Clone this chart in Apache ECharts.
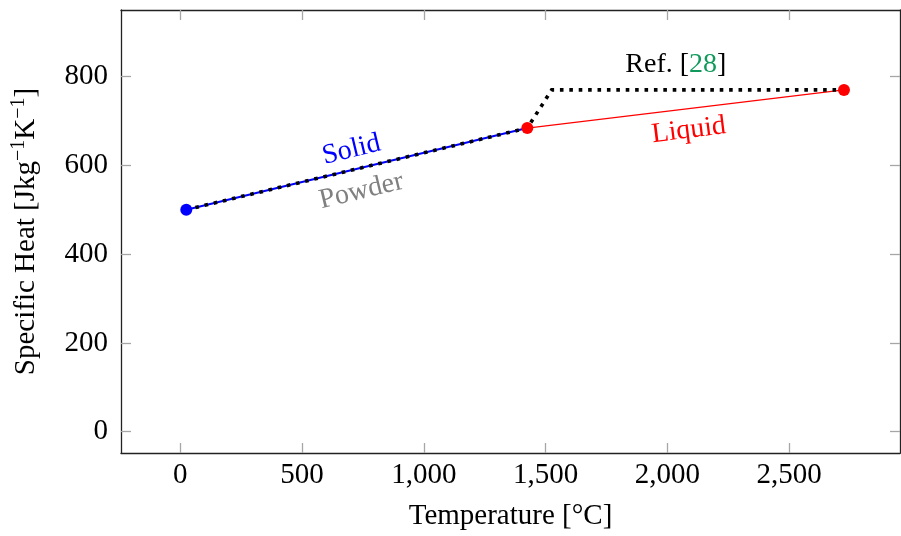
<!DOCTYPE html>
<html>
<head>
<meta charset="utf-8">
<script src="https://cdn.jsdelivr.net/npm/echarts@6/dist/echarts.min.js"></script>
<style>html,body{margin:0;padding:0;background:#fff}#c{width:901px;height:536px}</style>
</head>
<body>
<div id="c"></div>
<script>
// ---- data ----
const xTicks = [0, 500, 1000, 1500, 2000, 2500];
const yTicks = [0, 200, 400, 600, 800];
const xRange = [-243, 2955];
const yRange = [-48, 950];
const solidLine = [[25, 500], [1425, 684]];
const liquidLine = [[1425, 684], [2725, 770]];
const refLine = [[25, 500], [1425, 684], [1525, 770], [2700, 770]];
const solidPoints = [[25, 500]];
const liquidPoints = [[1425, 684], [2725, 770]];
// annotation text anchors (data coords) and rotation
const labelSolid = [703, 635];
const labelPowder = [744, 542];
const labelLiquid = [2088, 679];
const labelRef = [2035, 826];

const FONT = '"Liberation Serif", "DejaVu Serif", serif';
const FS = 29;
const tickColor = '#a6a6a6';
const frameColor = '#222';

function xAxisCfg(pos, show) {
  return {
    type: 'value', position: pos, min: xRange[0], max: xRange[1],
    axisLine: {show: true, onZero: false, lineStyle: {color: frameColor, width: 1.3}},
    axisTick: {show: true, inside: true, length: 10, customValues: xTicks, lineStyle: {color: tickColor, width: 1.3}},
    axisLabel: {show: show, customValues: xTicks, margin: 8, fontFamily: FONT, fontSize: FS, color: '#000',
      formatter: v => v.toLocaleString('en-US')},
    splitLine: {show: false},
    name: show ? 'Temperature [°C]' : '', nameLocation: 'middle', nameGap: 49,
    nameTextStyle: {fontFamily: FONT, fontSize: FS, color: '#000'}
  };
}
function yAxisCfg(pos, show) {
  return {
    type: 'value', position: pos, min: yRange[0], max: yRange[1],
    axisLine: {show: true, onZero: false, lineStyle: {color: frameColor, width: 1.3}},
    axisTick: {show: true, inside: true, length: 10, customValues: yTicks, lineStyle: {color: tickColor, width: 1.3}},
    axisLabel: {show: show, customValues: yTicks, margin: 13, fontFamily: FONT, fontSize: FS, color: '#000'},
    splitLine: {show: false},
    name: show ? 'Specific Heat [Jkg{sup|−1}K{sup|−1}]' : '', nameLocation: 'middle', nameGap: 78,
    nameTextStyle: {fontFamily: FONT, fontSize: FS, color: '#000',
      rich: {sup: {fontFamily: FONT, fontSize: 20, color: '#000', verticalAlign: 'top', padding: [0, 0, 14, 0]}}}
  };
}

function textSeries(pt, text, color, rot, rich) {
  return {
    type: 'scatter', data: [pt], symbolSize: 0, silent: true, z: 10,
    itemStyle: {opacity: 1},
    emphasis: {disabled: true},
    label: {show: true, position: 'inside', formatter: text, rotate: rot, opacity: 1,
      fontFamily: FONT, fontSize: 28, color: color, rich: rich || {}}
  };
}

const chart = echarts.init(document.getElementById('c'), null, {renderer: 'canvas'});
chart.setOption({
  animation: false,
  backgroundColor: '#fff',
  grid: {left: 121, right: 1, top: 10, bottom: 83, containLabel: false},
  xAxis: [xAxisCfg('bottom', true), xAxisCfg('top', false)],
  yAxis: [yAxisCfg('left', true), yAxisCfg('right', false)],
  series: [
    {type: 'line', data: solidLine, showSymbol: false, lineStyle: {color: '#0000ff', width: 2}, z: 2},
    {type: 'line', data: liquidLine, showSymbol: false, lineStyle: {color: '#ff0000', width: 1.2}, z: 2},
    {type: 'line', data: refLine, showSymbol: false,
      lineStyle: {color: '#000', width: 3.6, type: [3.6, 5.8], cap: 'butt', join: 'miter'}, z: 3},
    {type: 'scatter', data: solidPoints, symbol: 'circle', symbolSize: 12, itemStyle: {color: '#0000ff', opacity: 1}, z: 5},
    {type: 'scatter', data: liquidPoints, symbol: 'circle', symbolSize: 12, itemStyle: {color: '#ff0000', opacity: 1}, z: 5},
    textSeries(labelSolid, 'Solid', '#0000ff', 13.5),
    textSeries(labelPowder, 'Powder', '#808080', 13.5),
    textSeries(labelLiquid, 'Liquid', '#ff0000', 7),
    textSeries(labelRef, 'Ref. [{g|28}]', '#000', 0, {g: {color: '#119a5c', fontFamily: FONT, fontSize: 28}})
  ]
});
</script>
</body>
</html>
